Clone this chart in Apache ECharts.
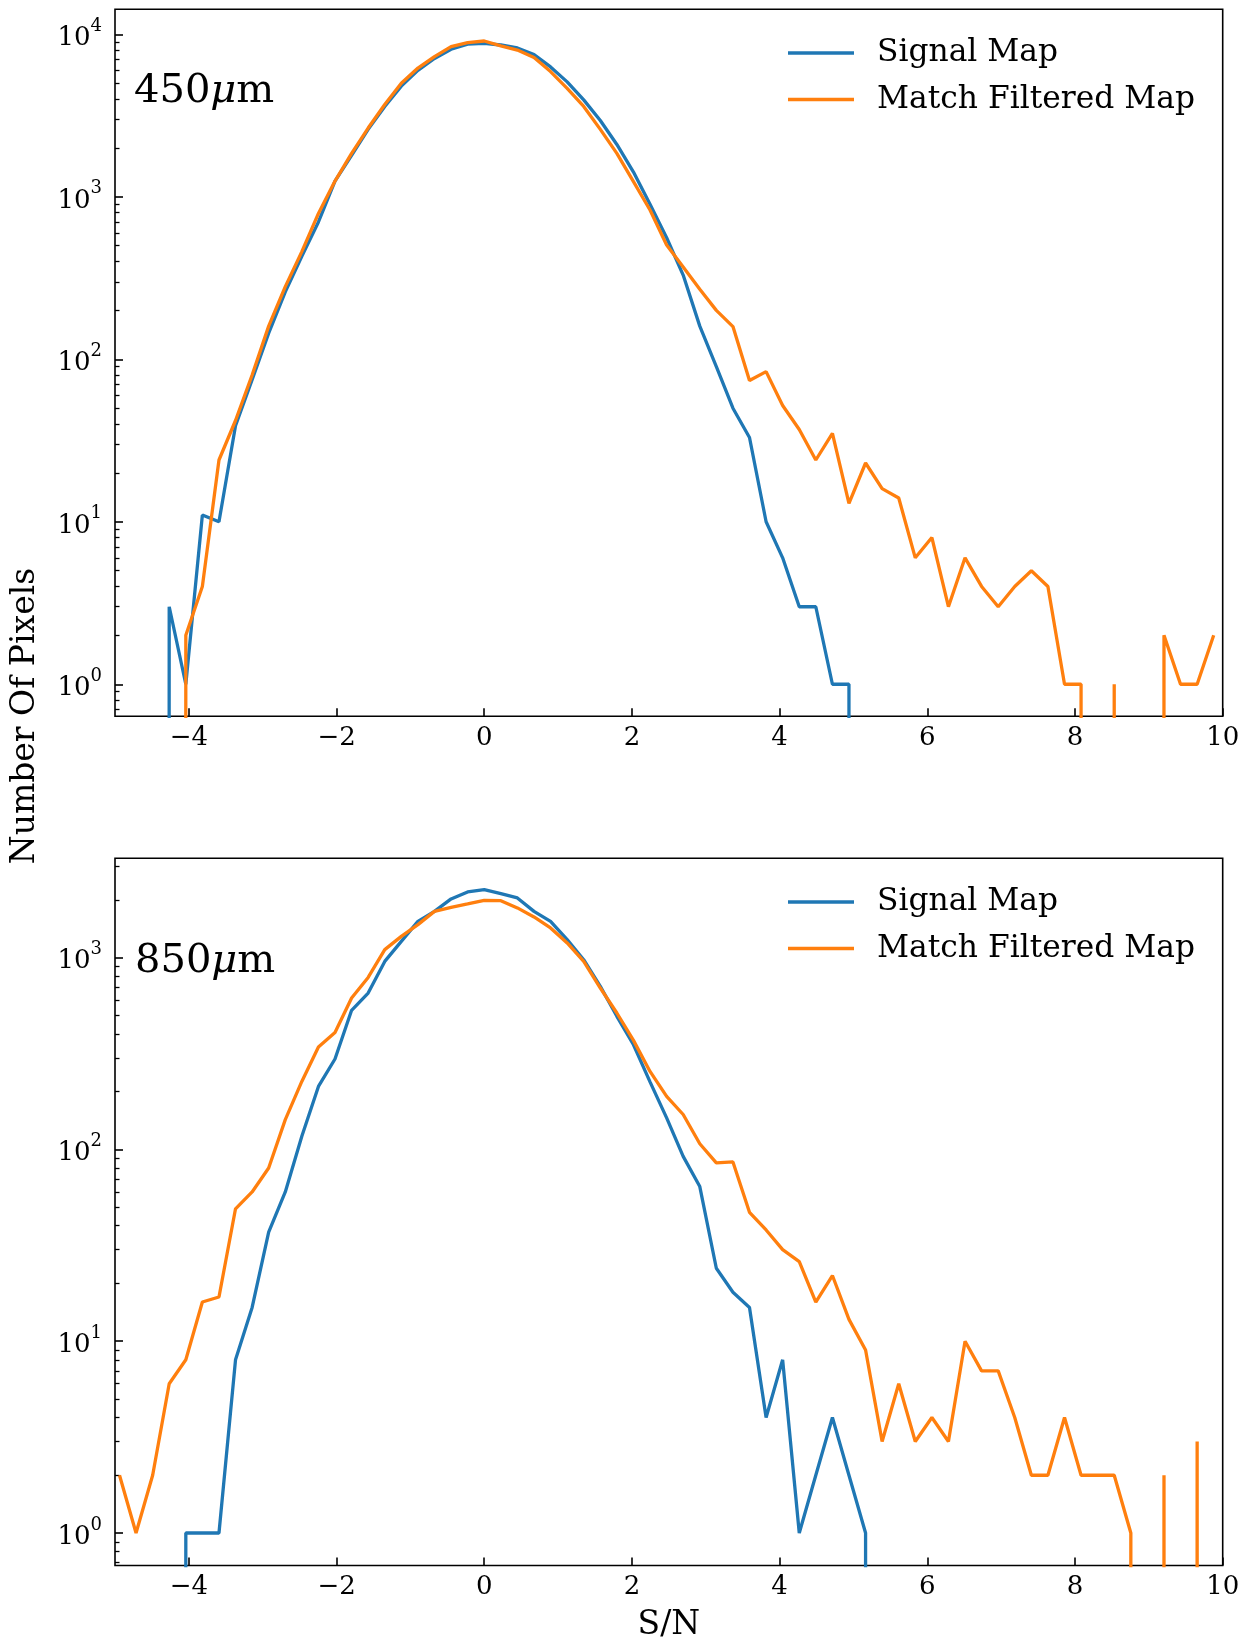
<!DOCTYPE html>
<html><head><meta charset="utf-8">
<script src="https://cdn.jsdelivr.net/npm/echarts@6/dist/echarts.min.js"></script>
<style>html,body{margin:0;padding:0;background:#fff}#c{width:1248px;height:1646px}</style>
</head><body><div id="c"></div>
<script>
// S/N bin centres (shared by all four histograms)
const snBins = [-4.939,-4.715,-4.490,-4.266,-4.041,-3.817,-3.592,-3.368,-3.143,-2.919,-2.694,-2.470,-2.245,-2.021,-1.796,-1.572,-1.347,-1.123,-0.898,-0.674,-0.449,-0.225,0.000,0.225,0.449,0.674,0.898,1.123,1.347,1.572,1.796,2.021,2.245,2.470,2.694,2.919,3.143,3.368,3.592,3.817,4.041,4.266,4.490,4.715,4.939,5.164,5.388,5.613,5.837,6.062,6.286,6.511,6.735,6.960,7.184,7.409,7.633,7.858,8.082,8.307,8.531,8.756,8.980,9.205,9.429,9.654,9.878];

// 450 micron panel
const signal450 = [0,0,0,3,1,11,10,39,75,145,260,430,700,1250,1800,2600,3600,4800,6000,7100,8100,8700,8800,8600,8250,7500,6300,5100,3950,2950,2100,1420,900,560,330,160,90,50,33,10,6,3,3,1,1,0,0,0,0,0,0,0,0,0,0,0,0,0,0,0,0,0,0,0,0,0,0];
const filtered450 = [0,0,0,0,2,4,24,42,80,160,280,460,790,1250,1850,2650,3700,5000,6200,7300,8400,8900,9100,8500,8000,7200,5900,4650,3600,2600,1850,1240,830,505,370,270,200,159,74,84,52,37,24,35,13,23,16,14,6,8,3,6,4,3,4,5,4,1,1,0,1,0,0,2,1,1,2];

// 850 micron panel
const signal850 = [0,0,0,0,1,1,1,8,15,37,60,117,213,296,531,653,955,1215,1545,1741,2022,2200,2262,2155,2046,1741,1545,1240,975,708,494,351,225,146,92,64,24,18,15,4,8,1,2,4,2,1,0,0,0,0,0,0,0,0,0,0,0,0,0,0,0,0,0,0,0,0,0];
const filtered850 = [2,1,2,6,8,16,17,49,60,80,143,226,342,407,615,788,1100,1290,1485,1741,1829,1903,1988,1980,1815,1628,1427,1192,955,694,514,370,255,189,152,107,85,86,47,38,30,26,16,22,13,9,3,6,3,4,3,10,7,7,4,2,2,4,2,2,2,1,0,2,0,3,0];

const seriesNames = ['Signal Map', 'Match Filtered Map'];
const panelLabels = ['450', '850'];
const xTicks = [-4, -2, 0, 2, 4, 6, 8, 10];
const yMajor450 = [1, 10, 100, 1000, 10000];
const yMajor850 = [1, 10, 100, 1000];
const yMinor450 = [0.7,0.8,0.9,2,3,4,5,6,7,8,9,20,30,40,50,60,70,80,90,200,300,400,500,600,700,800,900,2000,3000,4000,5000,6000,7000,8000,9000];
const yMinor850 = [0.7,0.8,0.9,2,3,4,5,6,7,8,9,20,30,40,50,60,70,80,90,200,300,400,500,600,700,800,900,2000,3000];
const xLabel = 'S/N';
const yLabel = 'Number Of Pixels';

const FONT = '"DejaVu Serif", serif';
const BLUE = '#1f77b4', ORANGE = '#ff7f0e';
const FLOOR = 1e-300; // zero counts are clipped like matplotlib's log axis

function pts(vals) { return snBins.map((x, i) => [x, vals[i] > 0 ? vals[i] : FLOOR]); }

const grids = [
  { left: 115, right: 25.3, top: 9.3, height: 707 },
  { left: 115, right: 25.3, top: 858.3, height: 707.2 }
];
const yRanges = [[0.635, 14260], [0.677, 3293]];

function xAxis(gi, withName) {
  return {
    type: 'value', gridIndex: gi, min: -5, max: 10, position: 'bottom',
    axisLine: { show: false, onZero: false }, splitLine: { show: false },
    axisTick: { inside: true, length: 8, customValues: xTicks, lineStyle: { color: '#000', width: 1.6 } },
    axisLabel: { customValues: xTicks, margin: 9, color: '#000', fontSize: 26, fontFamily: FONT,
      formatter: v => (v < 0 ? '\u2212' + Math.abs(v) : String(v)) },
    name: withName ? xLabel : '', nameLocation: 'middle', nameGap: 43,
    nameTextStyle: { color: '#000', fontSize: 33, fontFamily: FONT }
  };
}
function yMajor(gi, ticks) {
  return {
    type: 'log', logBase: 10, gridIndex: gi, min: yRanges[gi][0], max: yRanges[gi][1], position: 'left',
    axisLine: { show: false, onZero: false }, splitLine: { show: false }, minorTick: { show: false },
    axisTick: { inside: true, length: 8, customValues: ticks, lineStyle: { color: '#000', width: 1.6 } },
    axisLabel: { customValues: ticks, margin: 13, color: '#000', fontFamily: FONT,
      formatter: v => '{b|10}{e|' + Math.round(Math.log10(v)) + '}',
      rich: {
        b: { fontSize: 26, fontFamily: FONT, color: '#000', lineHeight: 34, verticalAlign: 'bottom' },
        e: { fontSize: 18, fontFamily: FONT, color: '#000', lineHeight: 20, verticalAlign: 'top' }
      } }
  };
}
function yMinor(gi, ticks) {
  return {
    type: 'log', logBase: 10, gridIndex: gi, min: yRanges[gi][0], max: yRanges[gi][1], position: 'left', offset: 0,
    axisLine: { show: false, onZero: false }, splitLine: { show: false }, axisLabel: { show: false },
    axisTick: { inside: true, length: 4.5, customValues: ticks, lineStyle: { color: '#000', width: 1.3 } }
  };
}
function line(name, color, gi, vals) {
  return { type: 'line', name: name, xAxisIndex: gi, yAxisIndex: gi * 2, data: pts(vals),
    showSymbol: false, symbol: 'none', clip: true, animation: false,
    lineStyle: { color: color, width: 3.3 }, itemStyle: { color: color } };
}
function legend(top) {
  return { data: seriesNames, orient: 'vertical', left: 788, top: top, padding: 0, itemGap: 14.5,
    icon: 'rect', itemWidth: 66, itemHeight: 3.5, selectedMode: false,
    textStyle: { color: '#000', fontSize: 31.3, fontFamily: FONT, lineHeight: 32, padding: [0, 0, 0, 18] } };
}
function panelTitle(label, left, top) {
  return { text: '{a|' + label + '}{i|\u03bc}{a|m}', left: left, top: top, padding: 0,
    textStyle: { fontWeight: 'normal', rich: {
      a: { fontSize: 40, fontFamily: FONT, fontWeight: 'normal', color: '#000' },
      i: { fontSize: 40, fontFamily: FONT, fontWeight: 'normal', fontStyle: 'italic', color: '#000' } } } };
}

const chart = echarts.init(document.getElementById('c'), null, { renderer: 'canvas' });
chart.setOption({
  backgroundColor: '#fff',
  animation: false,
  grid: grids.map(g => Object.assign({ show: true, borderColor: '#000', borderWidth: 1.6, backgroundColor: 'transparent' }, g)),
  xAxis: [xAxis(0, false), xAxis(1, true)],
  yAxis: [yMajor(0, yMajor450), yMinor(0, yMinor450), yMajor(1, yMajor850), yMinor(1, yMinor850)],
  legend: [legend(37), legend(886)],
  title: [panelTitle(panelLabels[0], 134, 72), panelTitle(panelLabels[1], 135, 942)],
  graphic: [{ type: 'text', x: 25, y: 716, rotation: Math.PI / 2, silent: true,
    style: { text: yLabel, fill: '#000', fontSize: 33, fontFamily: FONT,
      align: 'center', verticalAlign: 'middle', textAlign: 'center', textVerticalAlign: 'middle' } }],
  series: [
    line(seriesNames[0], BLUE, 0, signal450),
    line(seriesNames[1], ORANGE, 0, filtered450),
    line(seriesNames[0], BLUE, 1, signal850),
    line(seriesNames[1], ORANGE, 1, filtered850)
  ]
});
</script></body></html>
